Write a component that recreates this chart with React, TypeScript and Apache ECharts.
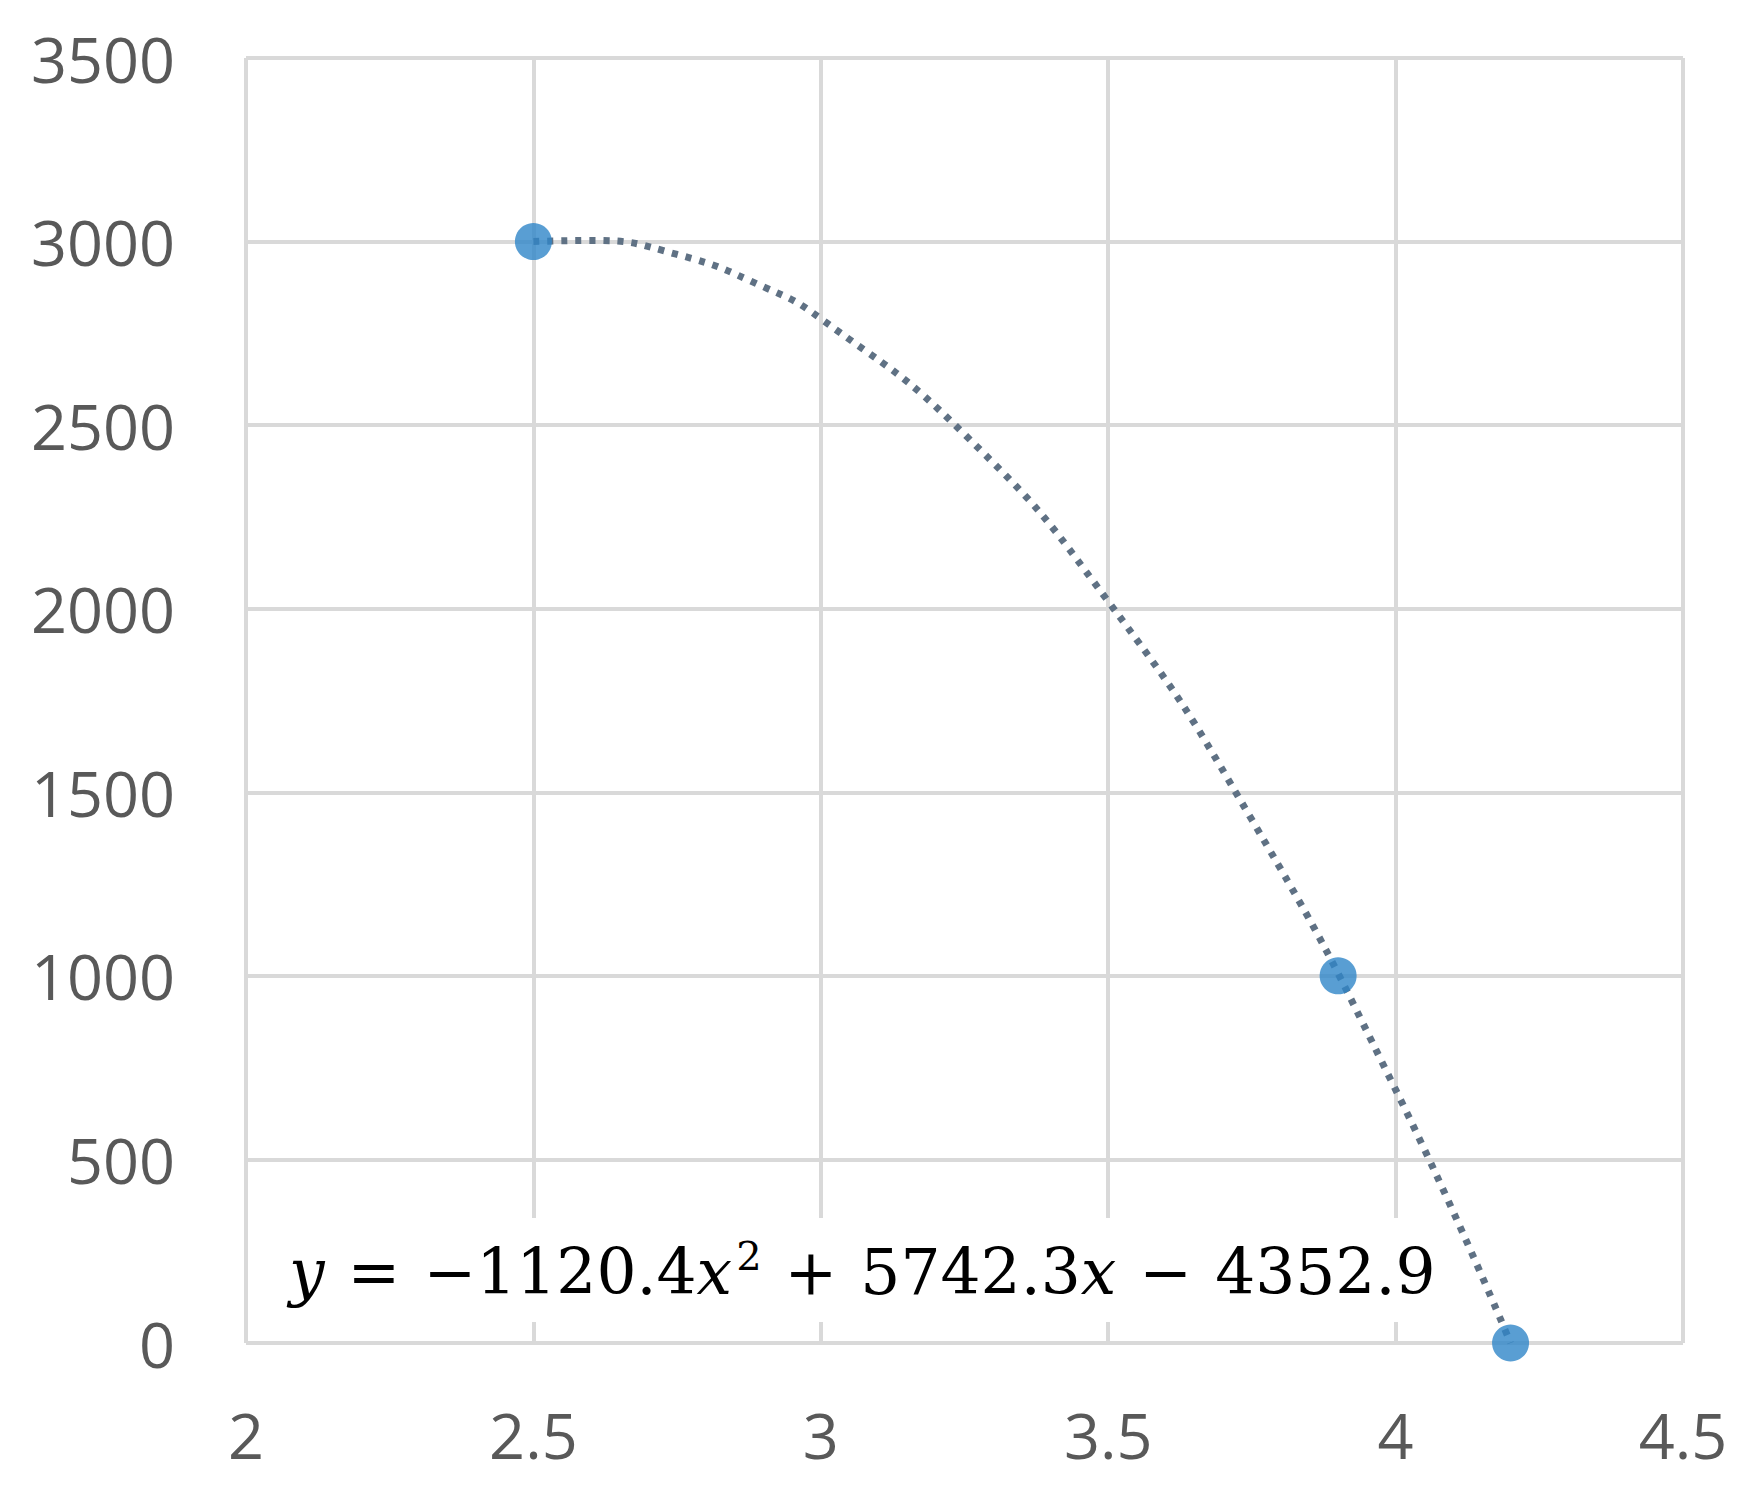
import React, { useEffect, useRef } from "react";
import * as echarts from "echarts";

const xTicks = [2, 2.5, 3, 3.5, 4, 4.5];
const yTicks = [0, 500, 1000, 1500, 2000, 2500, 3000, 3500];
const pointX = [2.5, 3.9, 4.2];
const pointY = [3000, 1000, 0];
// trendline values
const trendX = [2.5, 2.6, 2.75, 2.9, 3.0, 3.25, 3.5, 3.75, 4.0, 4.2];
const trendY = [3000, 3003, 2965, 2877, 2790, 2475, 2020, 1425, 690, 0];
const equationParts = ["y", "=", "−1120.4", "x", "2", "+", "5742.3", "x", "−", "4352.9"];

export default function App() {
  const ref = useRef<HTMLDivElement>(null);
  useEffect(() => {
    document.body.style.margin = "0";
    const chart = echarts.init(ref.current!, undefined, { renderer: "svg" });
    const labelStyle = {
      fontFamily: "Open Sans",
      fontSize: 63,
      color: "#595959",
    };
    const e = equationParts;
    chart.setOption({
      animation: false,
      backgroundColor: "#ffffff",
      grid: { left: 246, right: 71, top: 58, bottom: 146 },
      xAxis: {
        type: "value",
        min: xTicks[0],
        max: xTicks[xTicks.length - 1],
        interval: 0.5,
        axisLine: { show: false },
        axisTick: { show: false },
        splitLine: { show: true, lineStyle: { color: "#d9d9d9", width: 4 } },
        axisLabel: { ...labelStyle, margin: 60, formatter: (v: number) => String(v) },
      },
      yAxis: {
        type: "value",
        min: yTicks[0],
        max: yTicks[yTicks.length - 1],
        interval: 500,
        axisLine: { show: false },
        axisTick: { show: false },
        splitLine: { show: true, lineStyle: { color: "#d9d9d9", width: 4 } },
        axisLabel: { ...labelStyle, margin: 71, formatter: (v: number) => String(v) },
      },
      series: [
        {
          type: "line",
          data: trendX.map((x, i) => [x, trendY[i]]),
          smooth: true,
          symbol: "none",
          lineStyle: { color: "#5f7184", width: 7, type: [6, 8] },
          z: 2,
        },
        {
          type: "scatter",
          data: pointX.map((x, i) => [x, pointY[i]]),
          symbolSize: 37,
          itemStyle: { color: "#2f86c8" },
          z: 3,
        },
      ],
      graphic: [
        {
          type: "rect",
          shape: { x: 262, y: 1218, width: 1176, height: 104 },
          style: { fill: "#ffffff" },
          z: 1,
        },
        {
          type: "text",
          x: 289,
          y: 1272,
          z: 4,
          style: {
            text:
              "{it|" + e[0] + "}{op|" + e[1] + "}{n|" + e[2] + "}{it|" + e[3] + "}{sup|" + e[4] +
              "}{op|" + e[5] + "}{n|" + e[6] + "}{it|" + e[7] + "}{op|" + e[8] + "}{n|" + e[9] + "}",
            verticalAlign: "middle",
            rich: {
              n: { fontFamily: "DejaVu Serif", fontSize: 63, color: "#404040", lineHeight: 72 },
              op: { fontFamily: "DejaVu Serif", fontSize: 63, color: "#404040", lineHeight: 72, padding: [0, 23, 0, 23] },
              it: { fontFamily: "DejaVu Serif", fontStyle: "italic", fontSize: 63, color: "#404040", lineHeight: 72 },
              sup: { fontFamily: "DejaVu Serif", fontSize: 40, color: "#404040", lineHeight: 40, verticalAlign: "top", padding: [0, 0, 0, 4] },
            },
          },
        },
      ],
    });
    return () => chart.dispose();
  }, []);
  return <div ref={ref} style={{ width: 1754, height: 1489, position: "absolute", left: 0, top: 0 }} />;
}
